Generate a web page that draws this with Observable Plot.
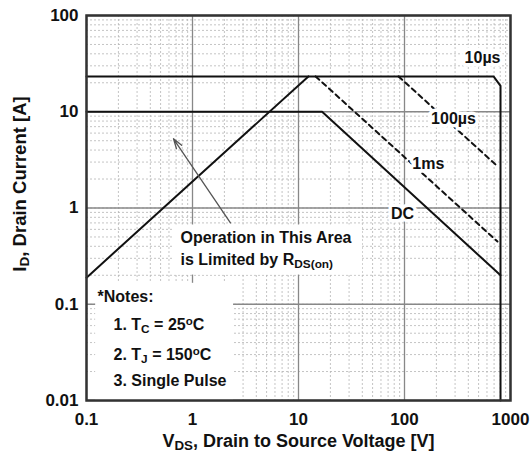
<!DOCTYPE html>
<html><head><meta charset="utf-8">
<script src="https://cdn.jsdelivr.net/npm/d3@7"></script>
<script src="https://cdn.jsdelivr.net/npm/@observablehq/plot@0.6"></script>
<style>body{margin:0;background:#fff} svg{display:block}</style>
</head><body><div id="chart"></div>
<script>
// ---- data (V in volts, I in amperes) ----
const xTicks = [0.1, 1, 10, 100, 1000];
const yTicks = [0.01, 0.1, 1, 10, 100];

const rdsV = [0.1, 12.4];
const rdsI = [0.189, 23.3];
const us10V = [0.1, 692, 805, 805];
const us10I = [23.3, 23.3, 18.6, 0.01];
const dcV = [0.1, 16.7, 805];
const dcI = [10, 10, 0.2];
const us100V = [87.8, 721];
const us100I = [23.3, 2.84];
const ms1V = [14.5, 754];
const ms1I = [23.3, 0.448];

const curveLabels = ["10µs", "100µs", "1ms", "DC"];
const curveLabelV = [545, 290, 168, 95.8];
const curveLabelI = [36.4, 8.46, 2.88, 0.866];

const opLines = ["Operation in This Area", "is Limited by R_{DS(on)}"];
const opV = [0.77, 0.77];
const opI = [0.488, 0.288];

const noteLines = ["*Notes:", "1. T_{C} = 25^{o}C", "2. T_{J} = 150^{o}C", "3. Single Pulse"];
const noteV = [0.127, 0.18, 0.18, 0.18];
const noteI = [0.118, 0.0605, 0.0295, 0.0159];

const boxV1 = [0.122, 0.662];
const boxV2 = [2.44, 40.2];
const boxI1 = [0.01, 0.201];
const boxI2 = [0.165, 0.666];

const arrowFrom = [2.28, 0.70];
const arrowTo = [0.662, 5.24];

const xLabel = "V_{DS}, Drain to Source Voltage [V]";
const yLabel = "I_{D}, Drain Current [A]";

// ---- build tables ----
const pts = (V, I) => V.map((v, k) => ({v, i: I[k]}));
const labelsData = curveLabels.map((t, k) => ({t, v: curveLabelV[k], i: curveLabelI[k]}));
const opData = opLines.map((t, k) => ({t, v: opV[k], i: opI[k]}));
const noteData = noteLines.map((t, k) => ({t, v: noteV[k], i: noteI[k]}));
const boxData = boxV1.map((v, k) => ({v1: v, v2: boxV2[k], i1: boxI1[k], i2: boxI2[k]}));

const FONT = "'Liberation Sans', Arial, sans-serif";

const plot = Plot.plot({
  width: 532, height: 455,
  marginLeft: 86, marginRight: 22, marginTop: 15, marginBottom: 55,
  style: {fontFamily: FONT, fontWeight: "bold", background: "white", color: "#111"},
  x: {type: "log", domain: [0.1, 1000]},
  y: {type: "log", domain: [0.01, 100]},
  marks: [
    Plot.gridX({ticks: 40, stroke: "#b5b5b5", strokeOpacity: 1, strokeWidth: 0.8, strokeDasharray: "2,2"}),
    Plot.gridY({ticks: 40, stroke: "#b5b5b5", strokeOpacity: 1, strokeWidth: 0.8, strokeDasharray: "2,2"}),
    Plot.gridX({ticks: xTicks, stroke: "#888", strokeOpacity: 1, strokeWidth: 1.3}),
    Plot.gridY({ticks: yTicks, stroke: "#888", strokeOpacity: 1, strokeWidth: 1.3}),
    Plot.rect(boxData, {x1: "v1", x2: "v2", y1: "i1", y2: "i2", fill: "white"}),
    Plot.line(pts(rdsV, rdsI), {x: "v", y: "i", stroke: "#111", strokeWidth: 2}),
    Plot.line(pts(us10V, us10I), {x: "v", y: "i", stroke: "#111", strokeWidth: 2}),
    Plot.line(pts(dcV, dcI), {x: "v", y: "i", stroke: "#111", strokeWidth: 2}),
    Plot.line(pts(us100V, us100I), {x: "v", y: "i", stroke: "#111", strokeWidth: 2, strokeDasharray: "5,4"}),
    Plot.line(pts(ms1V, ms1I), {x: "v", y: "i", stroke: "#111", strokeWidth: 2, strokeDasharray: "5,4"}),
    Plot.text(labelsData, {x: "v", y: "i", text: "t", fontSize: 16, fill: "#111", stroke: "white", strokeWidth: 7}),
    Plot.arrow([0], {x1: () => arrowFrom[0], y1: () => arrowFrom[1], x2: () => arrowTo[0], y2: () => arrowTo[1], stroke: "#555", strokeWidth: 1.3, headLength: 12, headAngle: 35}),
    Plot.text(opData, {x: "v", y: "i", text: "t", textAnchor: "start", fontSize: 16, fill: "#111"}),
    Plot.text(noteData, {x: "v", y: "i", text: "t", textAnchor: "start", fontSize: 16, fill: "#111"}),
    Plot.frame({stroke: "#333", strokeWidth: 2.5}),
    Plot.axisX({ticks: xTicks, tickSize: 0, tickPadding: 12, fontSize: 17, fontWeight: "bold", tickFormat: d => String(d), label: null}),
    Plot.axisY({ticks: yTicks, tickSize: 0, tickPadding: 8, fontSize: 17, fontWeight: "bold", tickFormat: d => String(d), label: null}),
    Plot.text([xLabel], {frameAnchor: "bottom", textAnchor: "middle", lineAnchor: "middle", dy: 41, text: d => d, fontSize: 18, fill: "#111"}),
    Plot.text([yLabel], {frameAnchor: "left", textAnchor: "middle", lineAnchor: "middle", rotate: -90, dx: -66, dy: -24, text: d => d, fontSize: 18.5, fill: "#111"})
  ]
});

// rich text: _{sub} and ^{sup}
const NS = "http://www.w3.org/2000/svg";
d3.select(plot).selectAll("text").each(function() {
  const t = this.textContent;
  if (!/[_^]\{/.test(t)) return;
  const parts = t.split(/([_^]\{[^}]*\})/).filter(s => s);
  while (this.firstChild) this.removeChild(this.firstChild);
  for (const p of parts) {
    const ts = document.createElementNS(NS, "tspan");
    if (p[0] === "_") {
      ts.textContent = p.slice(2, -1);
      ts.setAttribute("baseline-shift", "-22%");
      ts.setAttribute("font-size", "74%");
    } else if (p[0] === "^") {
      ts.textContent = p.slice(2, -1);
      ts.setAttribute("baseline-shift", "45%");
      ts.setAttribute("font-size", "72%");
    } else {
      ts.textContent = p;
    }
    this.appendChild(ts);
  }
});

document.getElementById("chart").appendChild(plot);
</script>
</body></html>
